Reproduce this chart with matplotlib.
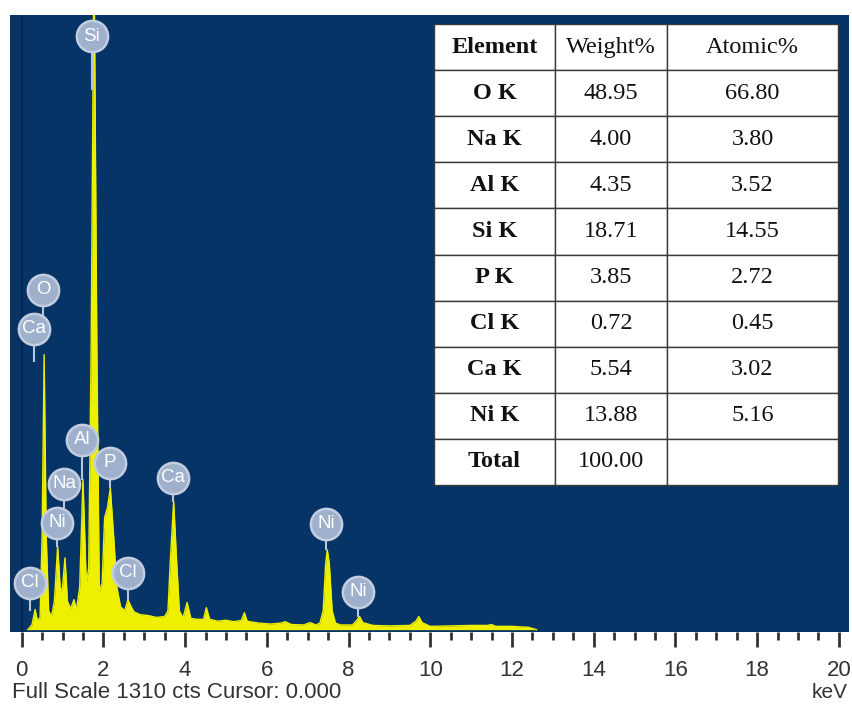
import matplotlib
matplotlib.use("Agg")
import matplotlib.pyplot as plt
from matplotlib.ticker import MultipleLocator

# ---- spectrum vertices (keV, counts) ----
energy_kev = [0.15, 0.25, 0.33, 0.38, 0.45, 0.50, 0.55, 0.60, 0.66, 0.73, 0.80, 0.88, 0.95, 1.00,
              1.06, 1.12, 1.20, 1.28, 1.34, 1.42, 1.50, 1.58, 1.64, 1.70, 1.77, 1.84, 1.90, 1.97,
              2.03, 2.10, 2.17, 2.25, 2.33, 2.42, 2.52, 2.60, 2.67, 2.75, 2.90, 3.10, 3.30, 3.50,
              3.58, 3.64, 3.72, 3.79, 3.86, 3.95, 4.05, 4.14, 4.30, 4.45, 4.52, 4.60, 4.80, 5.00,
              5.20, 5.38, 5.45, 5.52, 5.80, 6.10, 6.35, 6.45, 6.60, 6.90, 7.06, 7.20, 7.30, 7.38,
              7.44, 7.48, 7.53, 7.60, 7.68, 7.80, 8.10, 8.20, 8.27, 8.35, 8.60, 9.00, 9.50, 9.65,
              9.72, 9.80, 10.0, 10.5, 11.0, 11.4, 11.5, 11.6, 12.0, 12.4, 12.6]
counts = [0, 10, 43, 20, 25, 200, 586, 200, 40, 28, 60, 177, 80, 90,
          153, 60, 45, 64, 42, 90, 320, 100, 130, 600, 1450, 600, 80, 100,
          239, 260, 302, 200, 90, 49, 40, 64, 50, 38, 32, 30, 26, 28,
          40, 150, 273, 150, 40, 25, 58, 24, 22, 22, 47, 22, 18, 20,
          17, 20, 36, 18, 14, 12, 14, 17, 11, 10, 15, 10, 14, 40,
          140, 170, 140, 40, 14, 10, 10, 20, 28, 15, 9, 8, 9, 18,
          28, 15, 7, 8, 9, 9, 11, 7, 7, 5, 0]

# ---- peak labels (element, keV, counts of bubble centre, counts where the stub ends) ----
label_text = ["Si", "O", "Ca", "Al", "Na", "P", "Ca", "Ni", "Cl", "Cl", "Ni", "Ni"]
label_kev = [1.72, 0.52, 0.30, 1.48, 1.04, 2.16, 3.70, 0.86, 0.20, 2.60, 7.45, 8.23]
label_cts = [1265, 724, 641, 405, 311, 356, 324, 228, 100, 121, 226, 81]
label_stub = [1150, 650, 570, 320, 260, 302, 273, 177, 40, 64, 170, 28]

# ---- table ----
tbl_elements = ["O K", "Na K", "Al K", "Si K", "P K", "Cl K", "Ca K", "Ni K", "Total"]
tbl_weight = ["48.95", "4.00", "4.35", "18.71", "3.85", "0.72", "5.54", "13.88", "100.00"]
tbl_atomic = ["66.80", "3.80", "3.52", "14.55", "2.72", "0.45", "3.02", "5.16", ""]
tbl_header = ["Element", "Weight%", "Atomic%"]

x_ticks = list(range(0, 21, 2))
full_scale = 1310

BLUE = "#073467"
YELLOW = "#eef000"
BUBBLE = "#9fb0cc"

W, H = 852, 708
fig = plt.figure(figsize=(W / 100, H / 100), dpi=100)
fig.patch.set_facecolor("white")
ax = fig.add_axes([10 / W, (H - 632) / H, 839 / W, 617 / H])
ax.set_facecolor(BLUE)

ax.set_xlim(-0.286, 20.25)
ax.set_ylim(-5, full_scale)

ax.axvline(0, color="#06264d", lw=1.6, zorder=1)
ax.fill_between(energy_kev, 0, counts, color=YELLOW, lw=0, zorder=2)
ax.plot(energy_kev, counts, color=YELLOW, lw=1.0, zorder=2)

for t, xk, yc, ys in zip(label_text, label_kev, label_cts, label_stub):
    ax.plot([xk, xk], [yc - 20, ys], color="#b8c4da", lw=1.5, zorder=3, solid_capstyle="butt")
    ax.plot([xk], [yc], marker="o", ms=22.5, mfc=BUBBLE, mec="#c3cde0", mew=1.8, zorder=4,
            clip_on=False)
    ax.text(xk, yc, t, color="white", ha="center", va="center", fontsize=13.5,
            family="Liberation Sans", zorder=5, clip_on=False)

for s in ax.spines.values():
    s.set_visible(False)
ax.set_xticks(x_ticks)
ax.xaxis.set_minor_locator(MultipleLocator(0.5))
ax.tick_params(axis="x", which="major", length=11, width=2, color="#333333",
               labelsize=16, pad=9, labelcolor="#333333")
ax.tick_params(axis="x", which="minor", length=6, width=2, color="#333333")
ax.set_yticks([])
for lab in ax.get_xticklabels():
    lab.set_family("Liberation Sans")

fig.text(12 / W, 1 - 693 / H, "Full Scale %d cts Cursor: 0.000" % full_scale, ha="left", va="center",
         fontsize=16, family="Liberation Sans", color="#333333")
fig.text(848 / W, 1 - 693 / H, "keV", ha="right", va="center",
         fontsize=15, family="Liberation Sans", color="#333333")

# table
cell_text = [tbl_header] + [[e, w, a] for e, w, a in zip(tbl_elements, tbl_weight, tbl_atomic)]
tb = ax.table(cellText=cell_text, cellLoc="center",
              colWidths=[121 / 404, 112 / 404, 171 / 404],
              bbox=[(434 - 10) / 839, (632 - 485) / 617, 404 / 839, 461 / 617], zorder=10)
tb.auto_set_font_size(False)
for (r, c), cell in tb.get_celld().items():
    cell.set_facecolor("white")
    cell.set_edgecolor("#3a3a3a")
    cell.set_linewidth(1.0)
    txt = cell.get_text()
    txt.set_fontfamily("Liberation Serif")
    txt.set_fontsize(17.5)
    txt.set_color("#111111")
    if c == 0:
        txt.set_fontweight("bold")

fig.savefig("out.png", dpi=100, facecolor="white")
